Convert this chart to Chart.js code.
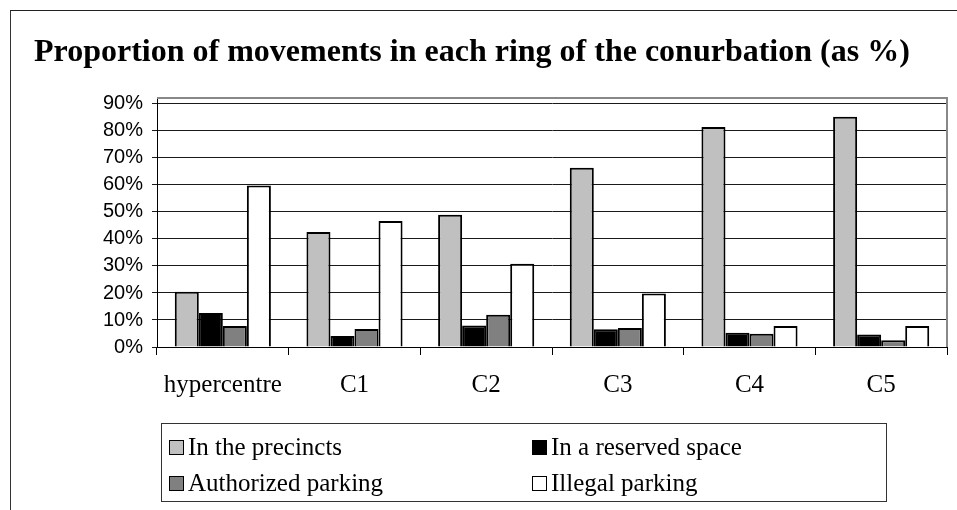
<!DOCTYPE html>
<html>
<head>
<meta charset="utf-8">
<script src="https://cdn.jsdelivr.net/npm/chart.js@4.4.1/dist/chart.umd.min.js"></script>
<style>
    body { margin: 0; background: #fff; }
    #page { position: relative; width: 957px; height: 510px; overflow: hidden; background: #fff; }
    #frame { position: absolute; left: 10px; top: 10px; width: 960px; height: 520px;
             border-top: 1px solid #222; border-left: 1.5px solid #333; }
    #title { position: absolute; left: 34px; top: 32px; white-space: nowrap;
             font-family: "Liberation Serif", serif; font-weight: bold; font-size: 32px; color: #000; }
    #chartBox { position: absolute; left: 0; top: 0; width: 957px; height: 510px; }
    #legend { position: absolute; left: 161px; top: 423px; width: 724px; height: 77px;
              border: 1.5px solid #333; font-family: "Liberation Serif", serif; font-size: 25px; color: #000; }
    .item { position: absolute; display: flex; align-items: center; white-space: nowrap; }
    .swatch { width: 13px; height: 13px; border: 1.5px solid #000; margin-right: 4px; }
</style>
</head>
<body>
<div id="page">
    <div id="frame"></div>
    <div id="chartBox"><canvas id="movementsChart"></canvas></div>
    <div id="title">Proportion of movements in each ring of the conurbation (as %)</div>
    <div id="legend"></div>
</div>
<script>
const categories = ['hypercentre', 'C1', 'C2', 'C3', 'C4', 'C5'];
const inPrecincts = [20.5, 42.6, 49.0, 66.4, 81.5, 85.3];
const inReservedSpace = [12.6, 4.1, 8.0, 6.6, 5.3, 4.6];
const authorizedParking = [7.8, 6.7, 11.9, 7.0, 4.9, 2.5];
const illegalParking = [59.8, 46.7, 30.8, 19.8, 7.8, 7.8];
const yTicks = [0, 10, 20, 30, 40, 50, 60, 70, 80, 90];

const seriesNames = ['In the precincts', 'In a reserved space', 'Authorized parking', 'Illegal parking'];
const seriesColors = ['#c0c0c0', '#000000', '#808080', '#ffffff'];
const seriesData = [inPrecincts, inReservedSpace, authorizedParking, illegalParking];

// grey frame on top and right of the plot area
const plotFrame = {
    id: 'plotFrame',
    afterDraw(chart) {
        const { ctx, chartArea } = chart;
        ctx.save();
        ctx.strokeStyle = '#888';
        ctx.lineWidth = 2;
        ctx.beginPath();
        ctx.moveTo(chartArea.left, chartArea.top);
        ctx.lineTo(chartArea.right, chartArea.top);
        ctx.lineTo(chartArea.right, chartArea.bottom);
        ctx.stroke();
        ctx.restore();
    }
};

function initializeMovementsChart() {
    const ctx = document.getElementById('movementsChart');

    new Chart(ctx, {
        type: 'bar',
        data: {
            labels: categories,
            datasets: seriesNames.map((name, i) => ({
                label: name,
                data: seriesData[i],
                backgroundColor: seriesColors[i],
                borderColor: '#000',
                borderWidth: 2,
                barPercentage: 1.0,
                categoryPercentage: 0.73
            }))
        },
        options: {
            responsive: true,
            maintainAspectRatio: false,
            animation: false,
            layout: { padding: { top: 98, right: 10, bottom: 0, left: 0 } },
            plugins: {
                legend: { display: false },
                title: { display: false },
                tooltip: { enabled: false }
            },
            scales: {
                x: {
                    grid: { drawOnChartArea: false, drawTicks: true, tickLength: 8, color: '#000', offset: true },
                    border: { color: '#000', width: 1 },
                    ticks: {
                        color: '#000',
                        padding: 15,
                        maxRotation: 0,
                        font: { family: 'Liberation Serif', size: 25 }
                    },
                    afterFit(scale) { scale.height = 163; }
                },
                y: {
                    min: 0,
                    max: 92.2,
                    grid: { color: '#1a1a1a', lineWidth: 1, tickLength: 5 },
                    border: { color: '#000', width: 1 },
                    ticks: {
                        color: '#000',
                        padding: 9,
                        font: { family: 'Liberation Sans', size: 20 },
                        callback: v => v + '%'
                    },
                    afterBuildTicks(scale) { scale.ticks = yTicks.map(v => ({ value: v })); },
                    afterFit(scale) { scale.width = 157; }
                }
            }
        },
        plugins: [plotFrame]
    });
}

function buildLegend() {
    const legend = document.getElementById('legend');
    const spots = [[7, 9], [370, 9], [7, 45], [370, 45]];
    seriesNames.forEach((name, s) => {
        const item = document.createElement('div');
        item.className = 'item';
        item.style.left = spots[s][0] + 'px';
        item.style.top = spots[s][1] + 'px';
        item.innerHTML = `<span class="swatch" style="background:${seriesColors[s]}"></span>${name}`;
        legend.appendChild(item);
    });
}

initializeMovementsChart();
buildLegend();
</script>
</body>
</html>
